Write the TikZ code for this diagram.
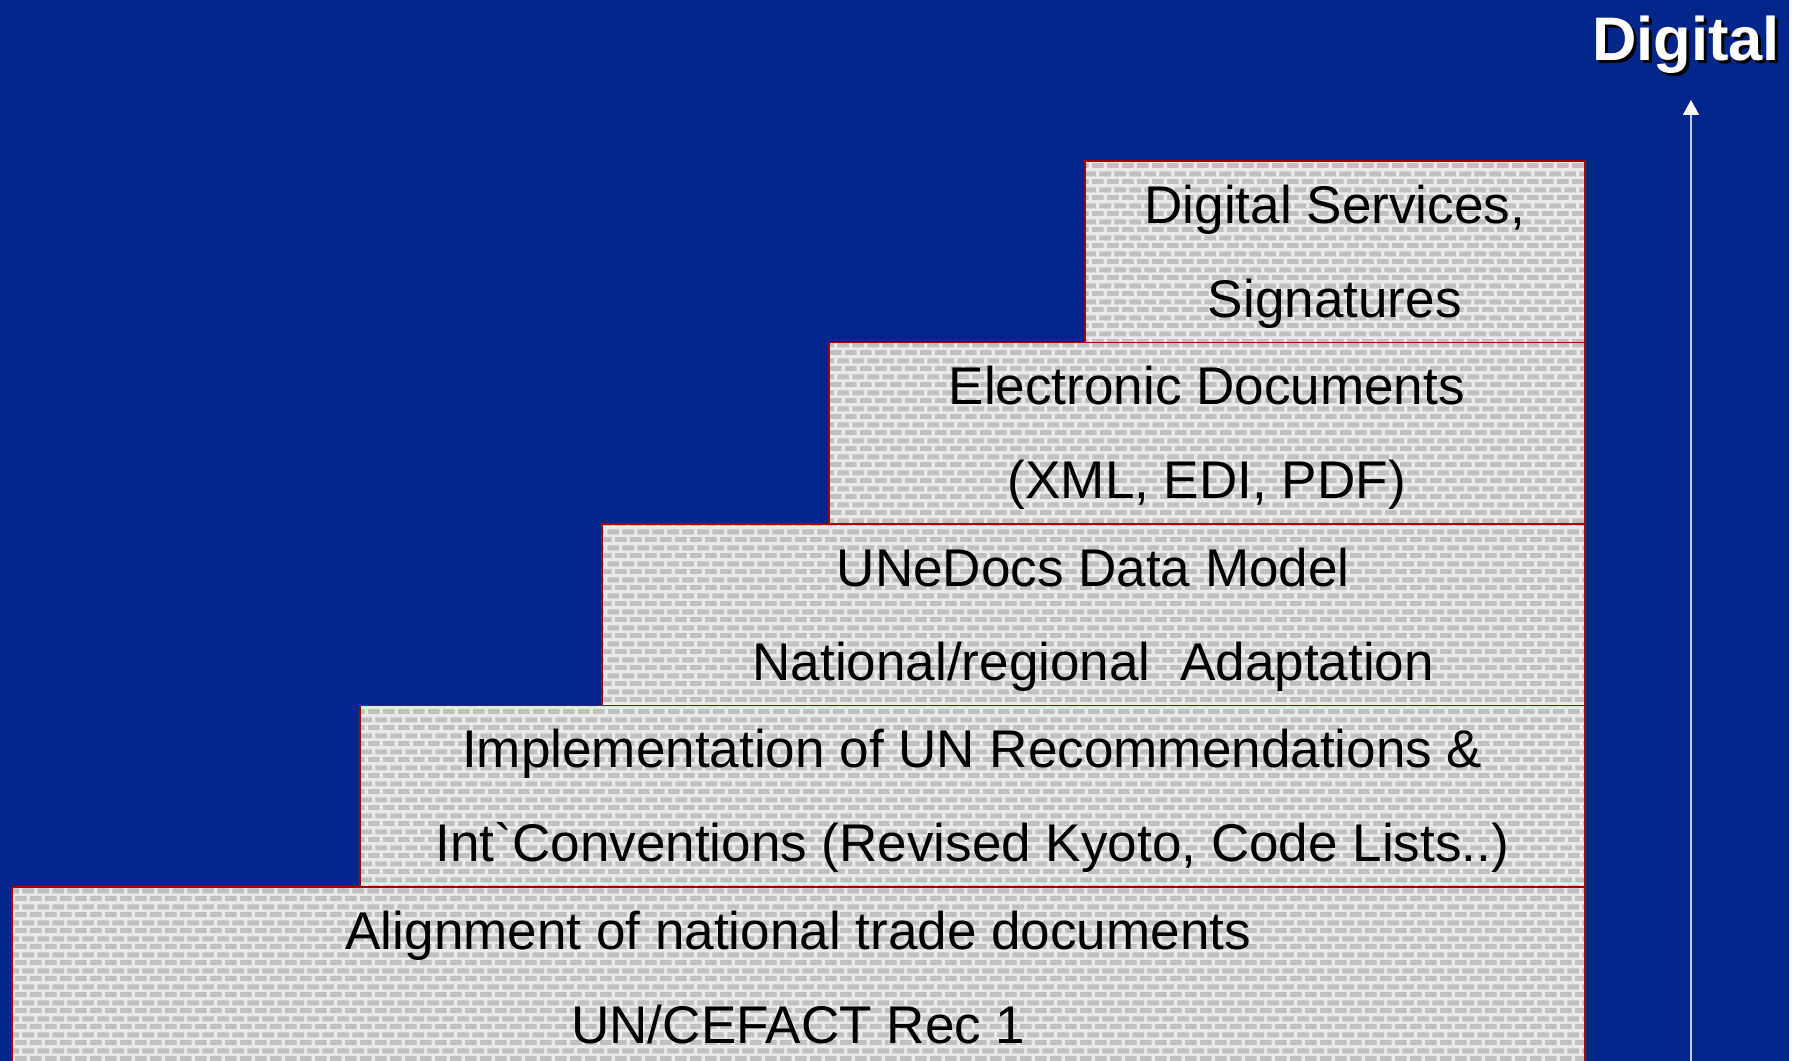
\documentclass[tikz,border=0pt]{standalone}
\usepackage{fontspec}
\setmainfont{Liberation Sans}
\usetikzlibrary{patterns,arrows.meta}

\definecolor{slideblue}{RGB}{0,38,137}
\definecolor{brickred}{RGB}{168,0,0}
\definecolor{brickgrey}{RGB}{192,192,192}
\definecolor{mortar}{RGB}{234,234,234}
\definecolor{arrowgrey}{RGB}{196,204,228}

% small brick wall, two courses per tile
\pgfdeclarepatternformonly{brickwall}{\pgfqpoint{0pt}{0pt}}{\pgfqpoint{8.76pt}{8.88pt}}{\pgfqpoint{8.76pt}{8.88pt}}{
  \pgfpathrectangle{\pgfqpoint{0pt}{0pt}}{\pgfqpoint{6.83pt}{2.85pt}}
  \pgfpathrectangle{\pgfqpoint{4.38pt}{4.44pt}}{\pgfqpoint{4.38pt}{2.85pt}}
  \pgfpathrectangle{\pgfqpoint{0pt}{4.44pt}}{\pgfqpoint{2.45pt}{2.85pt}}
  \pgfusepath{fill}}

\newcommand{\stepstrut}{\rule[-7pt]{0pt}{35pt}}
\newcommand{\steplines}[2]{\stepstrut#1\\\stepstrut#2}

\tikzset{
  stepbox/.style={draw=brickred, line width=0.035cm,
    preaction={fill=mortar},
    preaction={pattern=brickwall, pattern color=brickgrey},
    minimum height=3.63cm, inner sep=0pt, outer sep=0pt,
    align=center, text=black,
    font=\fontsize{30.2pt}{53.5pt}\selectfont},
  digitalfont/.style={font=\fontsize{35pt}{42pt}\selectfont\bfseries, anchor=base},
  risearrow/.style={draw=arrowgrey, line width=0.035cm,
    -{Triangle[color=white, width=0.32cm, length=0.3cm]}}
}

\begin{document}
\begin{tikzpicture}[x=0.02cm,y=-0.02cm]
  \clip (0,0) rectangle (1805,1061);
  \fill[white] (0,0) rectangle (1805,1061);
  \fill[slideblue] (0,0) rectangle (1789,1061);

  % staircase, bottom step first
  \node[stepbox, minimum width=31.46cm, anchor=north west] (alignment) at (12,887)
    {\steplines{Alignment of national trade documents}{UN/CEFACT Rec 1}};
  \node[stepbox, minimum width=24.5cm, anchor=south east] (implementation) at (alignment.north east)
    {\steplines{Implementation of UN Recommendations \&}{Int\textasciigrave Conventions (Revised Kyoto, Code Lists..)}};
  \node[stepbox, minimum width=19.66cm, anchor=south east] (unedocs) at (implementation.north east)
    {\steplines{UNeDocs Data Model}{National/regional\ \ Adaptation}};
  \node[stepbox, minimum width=15.12cm, anchor=south east] (edocs) at (unedocs.north east)
    {\steplines{Electronic Documents}{(XML, EDI, PDF)}};
  \node[stepbox, minimum width=10cm, anchor=south east] (services) at (edocs.north east)
    {\steplines{Digital Services,}{Signatures}};

  % arrow up to the label
  \coordinate (arrow foot) at (1691,1061);
  \coordinate (arrow tip) at (1691,100);
  \draw[risearrow] (arrow foot) -- (arrow tip);

  \node[digitalfont, text=black] (digital shadow) at (1689,64) {Digital};
  \node[digitalfont, text=white] (digital) at (1686,61) {Digital};
\end{tikzpicture}
\end{document}
